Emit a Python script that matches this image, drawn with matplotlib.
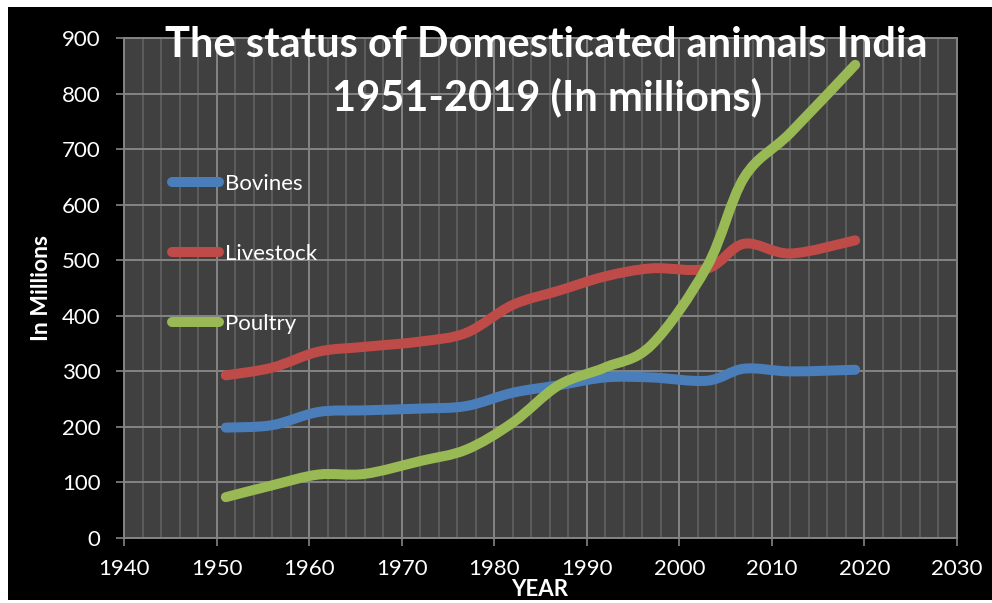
import matplotlib.pyplot as plt
from matplotlib.path import Path
from matplotlib.patches import PathPatch, Rectangle
from matplotlib.lines import Line2D
from matplotlib.ticker import MultipleLocator

# Livestock census years and counts (millions)
years = [1951, 1956, 1961, 1966, 1972, 1977, 1982, 1987, 1992, 1997, 2003, 2007, 2012, 2019]
bovines = [198.7, 203.1, 226.8, 229.8, 232.9, 237.6, 261.5, 275.0, 289.0, 289.0, 283.1, 304.8, 299.9, 302.8]
livestock = [292.8, 306.6, 335.4, 344.1, 353.6, 369.4, 419.6, 445.3, 470.9, 485.4, 485.0, 529.7, 512.1, 535.8]
poultry = [73.5, 94.8, 114.2, 115.4, 138.5, 159.2, 207.7, 275.3, 307.1, 347.6, 489.0, 648.8, 729.2, 851.8]

series_names = ["Bovines", "Livestock", "Poultry"]
series_colors = ["#4a7ebb", "#be4b48", "#98b954"]

plt.rcParams['font.family'] = ['Lato', 'DejaVu Sans']

fig = plt.figure(figsize=(9.92, 6.03), dpi=100)
fig.patch.set_facecolor("white")
# black panel behind everything
fig.patches.append(Rectangle((8 / 992, 3 / 603), 1, 593 / 603, transform=fig.transFigure,
                             facecolor="black", edgecolor="none", zorder=-10))

ax = fig.add_axes([124 / 992, 1 - 538 / 603, 833 / 992, 500 / 603])
ax.set_facecolor("#404040")


def smooth_path(xs, ys):
    # cubic bezier through every point (catmull-rom style control points)
    pts = list(zip(xs, ys))
    verts = [pts[0]]
    codes = [Path.MOVETO]
    n = len(pts)
    for i in range(n - 1):
        p0 = pts[i - 1] if i > 0 else pts[i]
        p1 = pts[i]
        p2 = pts[i + 1]
        p3 = pts[i + 2] if i + 2 < n else pts[i + 1]
        c1 = (p1[0] + (p2[0] - p0[0]) / 6, p1[1] + (p2[1] - p0[1]) / 6)
        c2 = (p2[0] - (p3[0] - p1[0]) / 6, p2[1] - (p3[1] - p1[1]) / 6)
        verts += [c1, c2, p2]
        codes += [Path.CURVE4] * 3
    return Path(verts, codes)


for vals, color in zip([bovines, livestock, poultry], series_colors):
    patch = PathPatch(smooth_path(years, vals), facecolor="none", edgecolor=color,
                      lw=7.2, capstyle="round", joinstyle="round", zorder=3)
    ax.add_patch(patch)

ax.set_xlim(1940, 2030)
ax.set_ylim(0, 900)
ax.xaxis.set_major_locator(MultipleLocator(10))
ax.xaxis.set_minor_locator(MultipleLocator(2))
ax.yaxis.set_major_locator(MultipleLocator(100))

ax.grid(which="major", color="#848484", lw=1.4)
ax.grid(which="minor", axis="x", color="#5c5c5c", lw=1.4)
ax.set_axisbelow(True)
for sp in ax.spines.values():
    sp.set_color("#848484")
    sp.set_linewidth(1.4)

ax.tick_params(which="major", direction="out", length=6, width=1.2, color="#848484",
               labelcolor="white", labelsize=16)
ax.tick_params(axis="y", pad=11)
ax.tick_params(axis="x", pad=9)
ax.tick_params(which="minor", length=0)

handles = [Line2D([], [], color=c, lw=7.2, solid_capstyle="round") for c in series_colors]
leg = ax.legend(handles, series_names, loc="upper left", bbox_to_anchor=(0.058, 0.728),
                frameon=False, fontsize=16, labelcolor="white", handlelength=2.1,
                handletextpad=0.25, labelspacing=2.25, borderpad=0, borderaxespad=0)

fig.text(546 / 992, 1 - 45 / 603, "The status of Domesticated animals India",
         ha="center", va="center", color="white", fontsize=30, fontweight="bold")
fig.text(547 / 992, 1 - 97 / 603, "1951-2019 (In millions)",
         ha="center", va="center", color="white", fontsize=30, fontweight="bold")
fig.text(42 / 992, 1 - 288 / 603, "In Millions", rotation=90, ha="center", va="center",
         color="white", fontsize=16.5, fontweight="bold")
fig.text(540 / 992, 1 - 590 / 603, "YEAR", ha="center", va="center",
         color="white", fontsize=16, fontweight="bold")

fig.savefig("out.png", dpi=100, facecolor=fig.get_facecolor())
